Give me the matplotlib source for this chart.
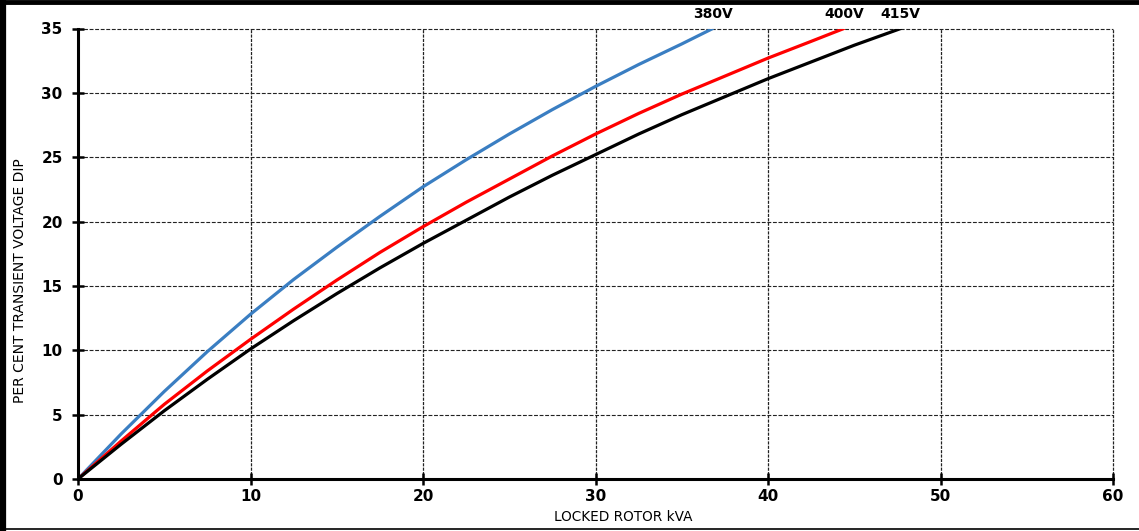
import matplotlib
matplotlib.use("Agg")
import matplotlib.pyplot as plt
from matplotlib.lines import Line2D

# values
kva_380 = [0, 2.5, 5, 7.5, 10, 12.5, 15, 17.5, 20, 22.5, 25, 27.5, 30,
           32.5, 35, 36.8]
dip_380 = [0, 3.5, 6.8, 9.9, 12.8, 15.5, 18.0, 20.4, 22.7, 24.8, 26.8,
           28.7, 30.5, 32.2, 33.8, 35]

kva_400 = [0, 2.5, 5, 7.5, 10, 12.5, 15, 17.5, 20, 22.5, 25, 27.5, 30,
           32.5, 35, 37.5, 40, 42.5, 44.4]
dip_400 = [0, 2.95, 5.8, 8.4, 10.85, 13.2, 15.45, 17.6, 19.6, 21.5, 23.3,
           25.1, 26.8, 28.4, 29.9, 31.3, 32.7, 34.0, 35]

kva_415 = [0, 2.5, 5, 7.5, 10, 12.5, 15, 17.5, 20, 22.5, 25, 27.5, 30,
           32.5, 35, 37.5, 40, 42.5, 45, 47.7]
dip_415 = [0, 2.7, 5.3, 7.75, 10.1, 12.3, 14.4, 16.4, 18.3, 20.1, 21.9,
           23.6, 25.2, 26.8, 28.3, 29.7, 31.1, 32.4, 33.7, 35]

series = [
    ("380V", kva_380, dip_380, "#3a7ec2"),
    ("400V", kva_400, dip_400, "#ff0000"),
    ("415V", kva_415, dip_415, "#000000"),
]

x_ticks = [0, 10, 20, 30, 40, 50, 60]
y_ticks = [0, 5, 10, 15, 20, 25, 30, 35]

plt.rcParams['font.family'] = ['DejaVu Sans']

fig = plt.figure(figsize=(11.39, 5.31), dpi=100)
ax = fig.add_axes([78 / 1139, 52 / 531, 1035 / 1139, 450.5 / 531])

for name, xs, ys, col in series:
    ax.plot(xs, ys, color=col, lw=2.3, solid_capstyle='round',
            solid_joinstyle='round', zorder=3)
    ax.text(xs[-1], 36.1, name, ha='center', va='center', fontsize=10,
            fontweight='bold', clip_on=False)

ax.set_xlim(0, 60)
ax.set_ylim(0, 35)
ax.set_xticks(x_ticks)
ax.set_yticks(y_ticks)

# dashed grid, the lines at 35 and 60 act as the top/right border
for yv in y_ticks[1:]:
    ax.axhline(yv, color='#222222', lw=0.8, ls=(0, (3.5, 1.5)), zorder=1,
               clip_on=False)
for xv in x_ticks[1:]:
    ax.axvline(xv, color='#222222', lw=0.9, ls=(0, (2.5, 1)), zorder=1,
               clip_on=False)

for s in ['top', 'right']:
    ax.spines[s].set_visible(False)
for s in ['left', 'bottom']:
    ax.spines[s].set_linewidth(2.2)
    ax.spines[s].set_zorder(4)

ax.tick_params(direction='inout', length=8, width=1.8, colors='black')
ax.tick_params(axis='y', pad=7)
ax.tick_params(axis='x', pad=3)
for lab in ax.get_xticklabels() + ax.get_yticklabels():
    lab.set_fontweight('bold')
    lab.set_fontsize(11)

ax.set_xlabel("LOCKED ROTOR kVA", fontsize=9.8)
ax.xaxis.set_label_coords(0.527, -0.068)
ax.set_ylabel("PER CENT TRANSIENT VOLTAGE DIP", fontsize=10)
ax.yaxis.set_label_coords(-0.049, 0.44)

# outer frame of the picture
fig.add_artist(Line2D([0, 1], [0.996, 0.996], color='black', lw=3.5,
                      transform=fig.transFigure))
fig.add_artist(Line2D([0.0025, 0.0025], [0, 1], color='black', lw=4.5,
                      transform=fig.transFigure))
fig.add_artist(Line2D([0, 1], [0.004, 0.004], color='black', lw=1.2,
                      transform=fig.transFigure))

fig.savefig("out.png", dpi=100)
